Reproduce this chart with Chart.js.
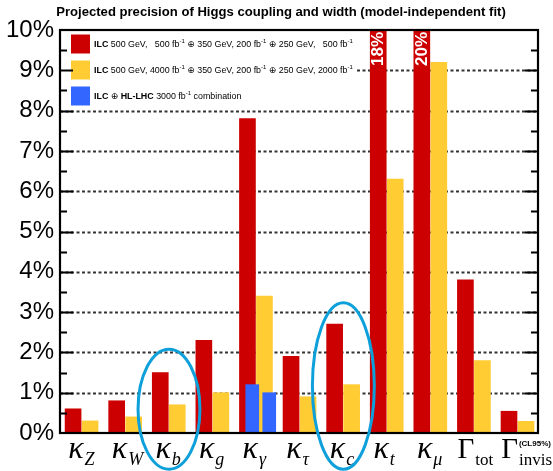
<!DOCTYPE html>
<html>
<head>
<meta charset="utf-8">
<script src="https://cdn.jsdelivr.net/npm/chart.js@4.4.1/dist/chart.umd.min.js"></script>
<style>
  html, body { margin: 0; padding: 0; background: #ffffff; overflow: hidden; }
  canvas { display: block; }
</style>
</head>
<body>
<canvas id="chart" width="553" height="471"></canvas>
<script>
// Couplings on the horizontal axis: main symbol, subscript, optional superscript
const couplingSymbols = ['κ', 'κ', 'κ', 'κ', 'κ', 'κ', 'κ', 'κ', 'κ', 'Γ', 'Γ'];
const couplingSubscripts = ['Z', 'W', 'b', 'g', 'γ', 'τ', 'c', 't', 'μ', 'tot', 'invis'];
const couplingSuperscripts = ['', '', '', '', '', '', '', '', '', '', '(CL95%)'];

// Relative precision in percent
const ilcBaseline = [0.6, 0.8, 1.5, 2.3, 7.8, 1.9, 2.7, 18, 20, 3.8, 0.54];
const ilcUpgrade = [0.3, 0.4, 0.7, 1.0, 3.4, 0.9, 1.2, 6.3, 9.2, 1.8, 0.29];
const hlLhcWithBaseline = [null, null, null, null, 1.2, null, null, null, null, null, null];
const hlLhcWithUpgrade = [null, null, null, null, 1.0, null, null, null, null, null, null];

// Vertical axis ticks (percent)
const yTickValues = [0, 1, 2, 3, 4, 5, 6, 7, 8, 9, 10];

const chartTitle = 'Projected precision of Higgs coupling and width (model-independent fit)';

// Legend entries
const legendRows = [
  [{t: 'ILC', b: true}, {t: ' 500 GeV,   500 fb'}, {t: '-1', s: true}, {t: ' \u2295 350 GeV, 200 fb'}, {t: '-1', s: true}, {t: ' \u2295 250 GeV,   500 fb'}, {t: '-1', s: true}],
  [{t: 'ILC', b: true}, {t: ' 500 GeV, 4000 fb'}, {t: '-1', s: true}, {t: ' \u2295 350 GeV, 200 fb'}, {t: '-1', s: true}, {t: ' \u2295 250 GeV, 2000 fb'}, {t: '-1', s: true}],
  [{t: 'ILC', b: true}, {t: ' \u2295 '}, {t: 'HL-LHC', b: true}, {t: ' 3000 fb'}, {t: '-1', s: true}, {t: ' combination'}]
];

const RED = '#cc0000';
const YELLOW = '#ffcc33';
const BLUE = '#3366ff';
const RING = '#0ea0da';
const SANS = "'Liberation Sans', Arial, 'DejaVu Sans', sans-serif";
const SERIF = "'Liberation Serif', 'DejaVu Serif', serif";

const Y_MAX = 10;

function toPoints(values, offset) {
  const pts = [];
  values.forEach((v, i) => { if (v !== null) pts.push({x: i + offset, y: v}); });
  return pts;
}

function drawRich(ctx, x, y, segments, size) {
  let cx = x;
  for (const seg of segments) {
    if (seg.s) {
      ctx.font = `${Math.round(size * 0.7)}px ${SANS}`;
      ctx.fillText(seg.t, cx, y - size * 0.42);
    } else {
      ctx.font = `${seg.b ? 'bold ' : ''}${size}px ${SANS}`;
      ctx.fillText(seg.t, cx, y);
    }
    cx += ctx.measureText(seg.t).width;
  }
}

const decorPlugin = {
  id: 'decor',
  beforeDatasetsDraw(chart) {
    const {ctx, chartArea: a, scales: {y}} = chart;
    ctx.save();
    ctx.strokeStyle = '#333333';
    ctx.lineWidth = 2;
    ctx.setLineDash([3, 2.5]);
    for (let v = 1; v < Y_MAX; v++) {
      const py = Math.round(y.getPixelForValue(v)) + 0.5;
      ctx.beginPath();
      ctx.moveTo(a.left, py);
      ctx.lineTo(a.right, py);
      ctx.stroke();
    }
    ctx.restore();
  },
  afterDatasetsDraw(chart) {
    const {ctx, chartArea: a, scales: {x, y}} = chart;
    ctx.save();

    // title
    ctx.fillStyle = '#000000';
    ctx.font = `bold 13.1px ${SANS}`;
    ctx.textAlign = 'center';
    ctx.textBaseline = 'middle';
    ctx.fillText(chartTitle, 281, 12);

    // values beyond the axis range, written inside the clipped bar
    chart.data.datasets.forEach((ds, di) => {
      const meta = chart.getDatasetMeta(di);
      ds.data.forEach((p, pi) => {
        if (p.y > Y_MAX) {
          const el = meta.data[pi];
          ctx.save();
          ctx.translate(el.x, a.top + 2);
          ctx.rotate(-Math.PI / 2);
          ctx.fillStyle = '#ffffff';
          ctx.font = `bold 17px ${SANS}`;
          ctx.textAlign = 'right';
          ctx.textBaseline = 'middle';
          ctx.fillText(p.y + '%', 0, 0);
          ctx.restore();
        }
      });
    });

    // legend
    ctx.fillStyle = '#ffffff';
    ctx.fillRect(a.left + 1, a.top + 1, 295, 78);
    const colors = [RED, YELLOW, BLUE];
    const rowY = [44, 70, 96];
    ctx.textBaseline = 'middle';
    ctx.textAlign = 'left';
    legendRows.forEach((row, r) => {
      ctx.fillStyle = colors[r];
      ctx.fillRect(71, rowY[r] - 9.5, 19, 19);
      ctx.fillStyle = '#000000';
      drawRich(ctx, 94, rowY[r] + 1, row, 8.9);
    });

    // axis ticks on both vertical edges
    ctx.strokeStyle = '#000000';
    ctx.lineWidth = 2;
    for (let v = 0.5; v < Y_MAX; v += 0.5) {
      const py = Math.round(y.getPixelForValue(v)) + 0.5;
      const len = Number.isInteger(v) ? 13 : 7;
      ctx.beginPath();
      ctx.moveTo(a.left, py); ctx.lineTo(a.left + len, py);
      ctx.moveTo(a.right, py); ctx.lineTo(a.right - len, py);
      ctx.stroke();
    }

    // frame
    ctx.lineWidth = 2.2;
    ctx.strokeRect(a.left, a.top, a.right - a.left, a.bottom - a.top);

    // coupling labels, each starting just inside its bin's first bar
    ctx.fillStyle = '#000000';
    ctx.textBaseline = 'alphabetic';
    ctx.textAlign = 'left';
    couplingSymbols.forEach((sym, i) => {
      const upright = sym === 'Γ';
      const x0 = x.getPixelForValue(i + 0.12) + (upright ? 0 : 3);
      const baseFont = upright ? `29px ${SERIF}` : `italic 32px ${SERIF}`;
      const subFont = upright ? `17px ${SERIF}` : `italic 18px ${SERIF}`;
      ctx.font = baseFont;
      const wb = ctx.measureText(sym).width;
      ctx.fillText(sym, x0, 458);
      ctx.font = subFont;
      ctx.fillText(couplingSubscripts[i], x0 + wb + 1, 465);
      if (couplingSuperscripts[i]) {
        ctx.font = `bold 8px ${SANS}`;
        ctx.fillText(couplingSuperscripts[i], x0 + wb + 1, 446);
      }
    });

    // highlighted couplings
    const rings = [{i: 2, top: 2.08}, {i: 6, top: 3.23}];
    ctx.strokeStyle = RING;
    ctx.lineWidth = 3;
    rings.forEach(r => {
      const cx = x.getPixelForValue(r.i + 0.5);
      const rx = x.getPixelForValue(r.i + 0.5 + 0.71) - cx;
      const yt = y.getPixelForValue(r.top);
      const yb = y.getPixelForValue(-0.9);
      ctx.beginPath();
      ctx.ellipse(cx, (yt + yb) / 2, rx, (yb - yt) / 2, 0, 0, Math.PI * 2);
      ctx.stroke();
    });

    ctx.restore();
  }
};

const barStyle = {grouped: false, clip: 0, borderWidth: 0, borderSkipped: false};

new Chart(document.getElementById('chart'), {
  type: 'bar',
  data: {
    datasets: [
      {label: 'ILC ⊕ HL-LHC', data: toPoints(hlLhcWithBaseline, 0.41), backgroundColor: BLUE, barThickness: 13, order: 1, ...barStyle},
      {label: 'ILC ⊕ HL-LHC', data: toPoints(hlLhcWithUpgrade, 0.80), backgroundColor: BLUE, barThickness: 13, order: 1, ...barStyle},
      {label: 'ILC 500 fb-1', data: toPoints(ilcBaseline, 0.30), backgroundColor: RED, barThickness: 16, order: 2, ...barStyle},
      {label: 'ILC 2000 fb-1', data: toPoints(ilcUpgrade, 0.69), backgroundColor: YELLOW, barThickness: 16, order: 2, ...barStyle}
    ]
  },
  options: {
    responsive: false,
    animation: false,
    events: [],
    layout: {padding: {top: 30, left: 0, right: 15, bottom: 38}},
    plugins: {
      legend: {display: false},
      tooltip: {enabled: false},
      title: {display: false}
    },
    scales: {
      x: {
        type: 'linear',
        min: 0,
        max: couplingSymbols.length - 0.035,
        offset: false,
        display: false
      },
      y: {
        type: 'linear',
        min: 0,
        max: Y_MAX,
        afterFit: s => { s.width = 60; },
        afterBuildTicks: s => { s.ticks = yTickValues.map(v => ({value: v})); },
        grid: {display: false, drawTicks: false},
        border: {display: false},
        ticks: {
          autoSkip: false,
          padding: 6,
          color: '#000000',
          font: {family: SANS, size: 24},
          callback: v => v + '%'
        }
      }
    }
  },
  plugins: [decorPlugin]
});
</script>
</body>
</html>
